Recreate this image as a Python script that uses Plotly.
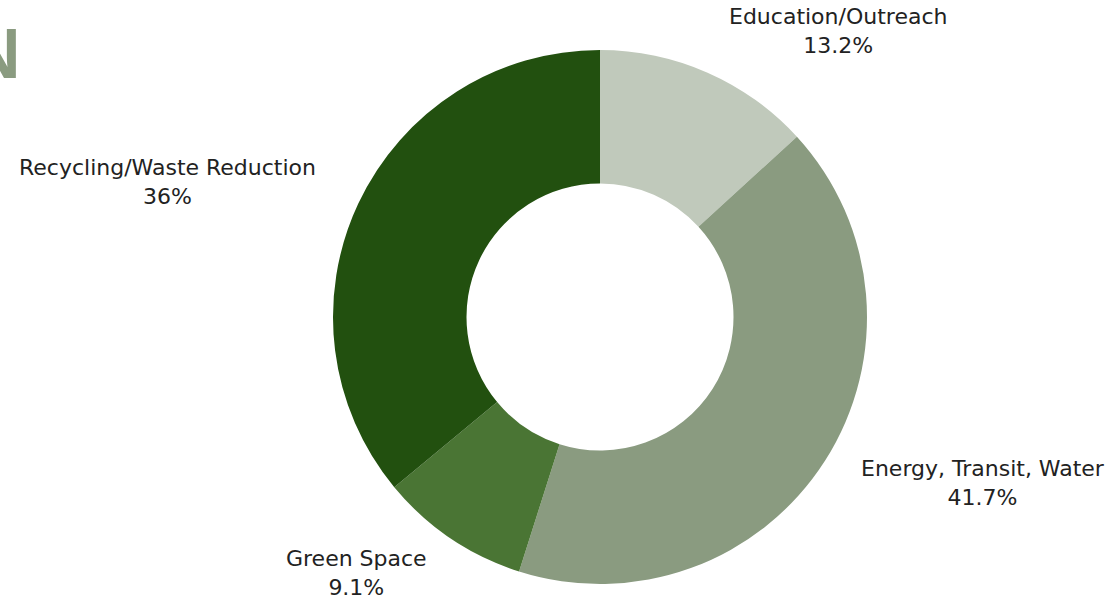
import plotly.graph_objects as go

categories = ["Education/Outreach", "Energy, Transit, Water", "Green Space", "Recycling/Waste Reduction"]
values = [13.2, 41.7, 9.1, 36]
value_labels = ["13.2%", "41.7%", "9.1%", "36%"]
colors = ["#c0c9bb", "#8a9b80", "#4a7534", "#22500f"]

W, H = 1108, 600

fig = go.Figure(go.Pie(
    labels=categories,
    values=values,
    hole=0.5,
    sort=False,
    direction="clockwise",
    rotation=0,
    marker=dict(colors=colors, line=dict(width=0)),
    textinfo="none",
    hoverinfo="label+percent",
    domain=dict(x=[333 / W, 867 / W], y=[1 - 584 / H, 1 - 50 / H]),
    showlegend=False,
))

# label placement (pixel centres of each label block)
label_pos = [(838, 31), (983, 483), (356, 573), (167, 182)]
annotations = []
for name, vl, (px, py) in zip(categories, value_labels, label_pos):
    annotations.append(dict(
        x=px / W, y=1 - py / H, xref="paper", yref="paper",
        text=f"{name}<br>{vl}", showarrow=False,
        xanchor="center", yanchor="middle", align="center",
        font=dict(family="DejaVu Sans", size=22, color="#222222"),
    ))

# cropped title letter at top-left
annotations.append(dict(
    x=23 / W, y=1 - 54 / H, xref="paper", yref="paper",
    text="<b>N</b>", showarrow=False, xanchor="right", yanchor="middle",
    font=dict(family="Liberation Sans", size=70, color="#8a9b80"),
))

fig.update_layout(
    width=W, height=H,
    margin=dict(l=0, r=0, t=0, b=0),
    paper_bgcolor="white", plot_bgcolor="white",
    annotations=annotations,
)

fig.write_html(
    "out.html",
    config={"displayModeBar": False},
    post_script="document.body.style.margin='0';document.body.style.overflow='hidden';",
)
